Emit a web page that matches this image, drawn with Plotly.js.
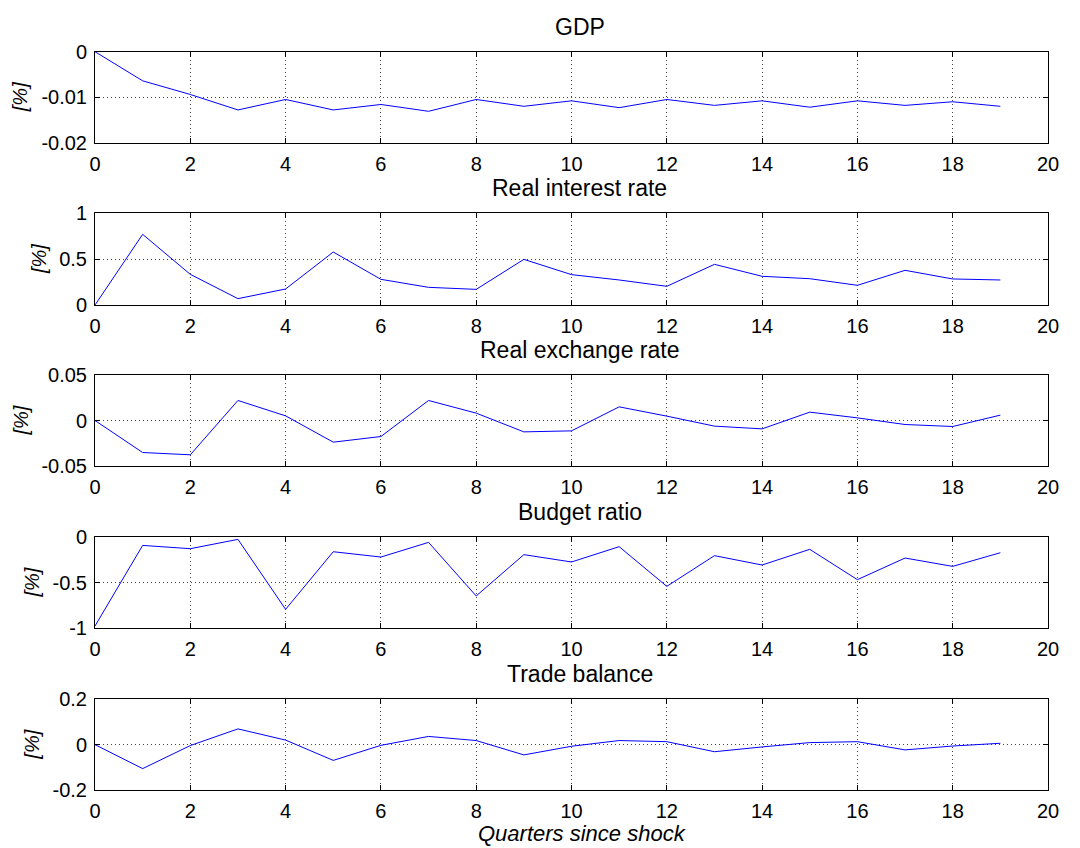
<!DOCTYPE html>
<html>
<head>
<meta charset="utf-8">
<script src="https://cdn.plot.ly/plotly-3.0.1.min.js"></script>
<style>
  html, body { margin: 0; padding: 0; background: #fff; }
  #chart { width: 1080px; height: 848px; }
</style>
</head>
<body>
<div id="chart"></div>
<script>
// ---- data ----
const quarters = [0,1,2,3,4,5,6,7,8,9,10,11,12,13,14,15,16,17,18,19];

const panelTitles = ["GDP", "Real interest rate", "Real exchange rate", "Budget ratio", "Trade balance"];

const gdp = [0, -0.0064, -0.0094, -0.0128, -0.0105, -0.0128, -0.0116, -0.0131, -0.0105, -0.0120,
             -0.0108, -0.0123, -0.0105, -0.0118, -0.0108, -0.0122, -0.0108, -0.0118, -0.0110, -0.0120];
const realInterest = [0, 0.768, 0.333, 0.069, 0.174, 0.576, 0.279, 0.192, 0.170, 0.496,
                      0.330, 0.272, 0.203, 0.442, 0.312, 0.286, 0.214, 0.377, 0.283, 0.272];
const realExchange = [0, -0.0352, -0.0377, 0.0220, 0.0051, -0.0238, -0.0176, 0.0220, 0.0081, -0.0125,
                      -0.0114, 0.0150, 0.0048, -0.0062, -0.0092, 0.0092, 0.0029, -0.0044, -0.0066, 0.0059];
const budgetRatio = [-0.975, -0.095, -0.131, -0.029, -0.793, -0.164, -0.222, -0.062, -0.647, -0.196,
                     -0.276, -0.109, -0.542, -0.207, -0.309, -0.138, -0.469, -0.233, -0.324, -0.175];
const tradeBalance = [0, -0.105, -0.004, 0.069, 0.020, -0.069, -0.003, 0.036, 0.018, -0.045,
                      -0.007, 0.018, 0.013, -0.031, -0.010, 0.009, 0.013, -0.023, -0.006, 0.006];

const xTicks = [0,2,4,6,8,10,12,14,16,18,20];
const xTickText = ["0","2","4","6","8","10","12","14","16","18","20"];

const yTicks = [
  [-0.02, -0.01, 0],
  [0, 0.5, 1],
  [-0.05, 0, 0.05],
  [-1, -0.5, 0],
  [-0.2, 0, 0.2]
];
const yTickText = [
  ["-0.02", "-0.01", "0"],
  ["0", "0.5", "1"],
  ["-0.05", "0", "0.05"],
  ["-1", "-0.5", "0"],
  ["-0.2", "0", "0.2"]
];
const yRanges = [[-0.02, 0], [0, 1], [-0.05, 0.05], [-1, 0], [-0.2, 0.2]];

const unitLabel = "[%]";
const xAxisLabel = "Quarters since shock";

const series = [gdp, realInterest, realExchange, budgetRatio, tradeBalance];

// ---- layout geometry (pixels) ----
const W = 1080, H = 848;
const plotLeft = 95, plotRight = 1048;
const panelTop = [51.7, 213, 375, 536.7, 699];
const panelBottom = [142.7, 305, 466, 628.3, 790.3];
const ylabelX = [20, 39, 20, 31, 32];

const FONT = "Arial, 'Liberation Sans', sans-serif";

const traces = [];
const layout = {
  width: W, height: H,
  margin: {l: plotLeft, r: W - plotRight, t: 0, b: 0, pad: 0},
  paper_bgcolor: "#ffffff",
  plot_bgcolor: "#ffffff",
  showlegend: false,
  font: {family: FONT, size: 20, color: "#000"},
  annotations: []
};

const plotW = plotRight - plotLeft;

for (let i = 0; i < 5; i++) {
  const n = i === 0 ? "" : String(i + 1);
  traces.push({
    x: quarters, y: series[i],
    type: "scatter", mode: "lines",
    line: {color: "#0000ff", width: 1},
    xaxis: "x" + n, yaxis: "y" + n,
    hoverinfo: "skip"
  });
  const dom = [1 - panelBottom[i] / H, 1 - panelTop[i] / H];
  const common = {
    showline: true, linecolor: "#000", linewidth: 1, mirror: "ticks",
    ticks: "inside", ticklen: 5, tickcolor: "#000", tickwidth: 1,
    showgrid: true, gridcolor: "#444", griddash: "1px,3px", gridwidth: 1,
    zeroline: false, fixedrange: true,
    tickfont: {family: FONT, size: 20, color: "#000"}
  };
  layout["xaxis" + n] = Object.assign({}, common, {
    anchor: "y" + n, domain: [0, 1], range: [0, 20],
    tickmode: "array", tickvals: xTicks, ticktext: xTickText,
    ticklabelstandoff: 3
  });
  layout["yaxis" + n] = Object.assign({}, common, {
    anchor: "x" + n, domain: dom, range: yRanges[i],
    tickmode: "array", tickvals: yTicks[i], ticktext: yTickText[i],
    ticklabelstandoff: 3
  });
  // panel title
  layout.annotations.push({
    text: panelTitles[i], xref: "paper", yref: "paper",
    x: 0.5, y: dom[1], xanchor: "center", yanchor: "middle",
    xshift: 8, yshift: 25, showarrow: false,
    font: {family: FONT, size: 23, color: "#000"}
  });
  // y unit label
  layout.annotations.push({
    text: "<i>" + unitLabel + "</i>", xref: "paper", yref: "paper",
    x: (ylabelX[i] - plotLeft) / plotW, y: (dom[0] + dom[1]) / 2,
    xanchor: "center", yanchor: "middle", textangle: -90,
    showarrow: false,
    font: {family: FONT, size: 20, color: "#000"}
  });
}

layout.annotations.push({
  text: "<i>" + xAxisLabel + "</i>", xref: "paper", yref: "paper",
  x: 0.5, y: 0, xanchor: "center", yanchor: "bottom",
  xshift: 10, yshift: 0, showarrow: false,
  font: {family: FONT, size: 22, color: "#000"}
});

Plotly.newPlot("chart", traces, layout, {displayModeBar: false, staticPlot: true});
</script>
</body>
</html>
